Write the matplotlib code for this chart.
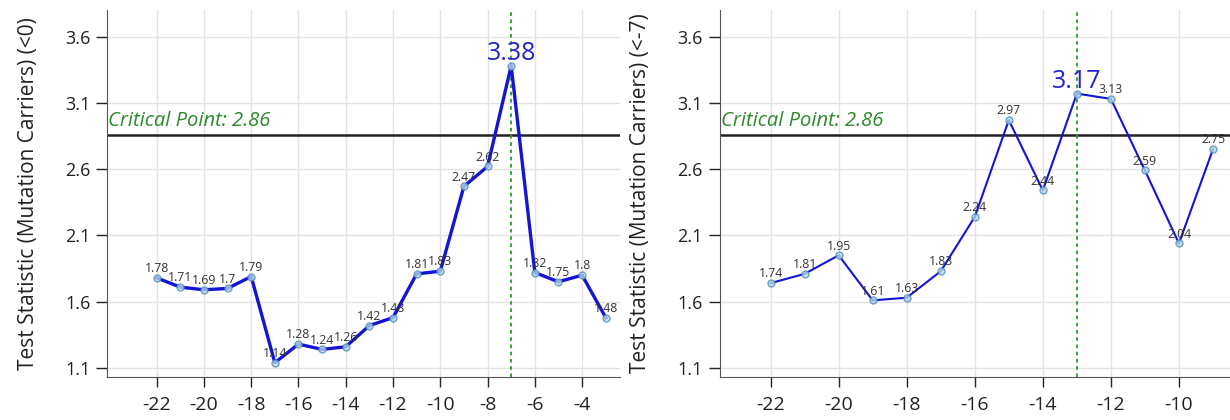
import numpy as np
import matplotlib
matplotlib.use("Agg")
import matplotlib.pyplot as plt

plt.rcParams['font.family'] = ['Open Sans', 'DejaVu Sans']
plt.rcParams['axes.unicode_minus'] = False

# datos panel izquierdo (<0)
x_left = list(range(-22, -2))
y_left = [1.78, 1.71, 1.69, 1.7, 1.79, 1.14, 1.28, 1.24, 1.26, 1.42,
          1.48, 1.81, 1.83, 2.47, 2.62, 3.38, 1.82, 1.75, 1.8, 1.48]
peak_left = -7

# datos panel derecho (<-7)
x_right = list(range(-22, -8))
y_right = [1.74, 1.81, 1.95, 1.61, 1.63, 1.83, 2.24, 2.97, 2.44, 3.17,
           3.13, 2.59, 2.04, 2.75]
peak_right = -13

critical = 2.86
yticks = [1.1, 1.6, 2.1, 2.6, 3.1, 3.6]
labels = ["Test Statistic (Mutation Carriers) (<0)",
          "Test Statistic (Mutation Carriers) (<-7)"]

fig = plt.figure(figsize=(12.3, 4.2), dpi=100)
ax1 = fig.add_axes([0.087, 0.1024, 0.417, 0.8736])
ax2 = fig.add_axes([0.585, 0.1024, 0.415, 0.8736])


def panel(ax, xs, ys, peak, xlim, xticks, ylabel, lw):
    ax.grid(True, color="#e3e3e3", linewidth=1)
    ax.set_axisbelow(True)
    ax.plot(xs, ys, color="#1414d4", linewidth=lw, zorder=3)
    ax.plot(xs, ys, linestyle="none", marker="o", markersize=5,
            markerfacecolor="#b8d4e8", markeredgecolor="#4a90b8",
            markeredgewidth=1, alpha=0.8, zorder=4)
    ax.axhline(critical, color="#222222", linewidth=1.8, zorder=2)
    ax.axvline(peak, color="#2a9a2a", linestyle=(0, (2, 2)),
               linewidth=1.3, zorder=2)
    ax.text(xlim[0] + 0.03, critical + 0.025, "Critical Point: 2.86",
            color="#2a8a2a", fontstyle="italic", fontsize=14.5,
            ha="left", va="bottom")
    for x, y in zip(xs, ys):
        if x == peak:
            ax.annotate(f"{y:g}", (x, y), xytext=(0, 0),
                        textcoords="offset points", ha="center",
                        va="bottom", fontsize=18, color="#2222cc")
        else:
            ax.annotate(f"{y:g}", (x, y), xytext=(0, 2),
                        textcoords="offset points", ha="center",
                        va="bottom", fontsize=8.8, color="#333333")
    ax.set_xlim(*xlim)
    ax.set_ylim(1.032, 3.8)
    ax.set_xticks(xticks)
    ax.set_yticks(yticks)
    ax.set_yticklabels([f"{t:.1f}" for t in yticks])
    ax.tick_params(axis="x", length=7, width=1, labelsize=14,
                   colors="#222222", pad=7)
    ax.tick_params(axis="y", length=8, width=1, labelsize=13,
                   colors="#222222", pad=4)
    ax.spines["top"].set_visible(False)
    ax.spines["right"].set_visible(False)
    ax.spines["left"].set_color("#555555")
    ax.spines["bottom"].set_color("#555555")
    ax.set_ylabel(ylabel, fontsize=15, color="#222222", labelpad=19)


panel(ax1, x_left, y_left, peak_left, (-24.1, -2.4),
      list(range(-22, -3, 2)), labels[0], 2.4)
panel(ax2, x_right, y_right, peak_right, (-23.5, -8.5),
      list(range(-22, -9, 2)), labels[1], 1.5)

fig.savefig("out.png", dpi=100)
